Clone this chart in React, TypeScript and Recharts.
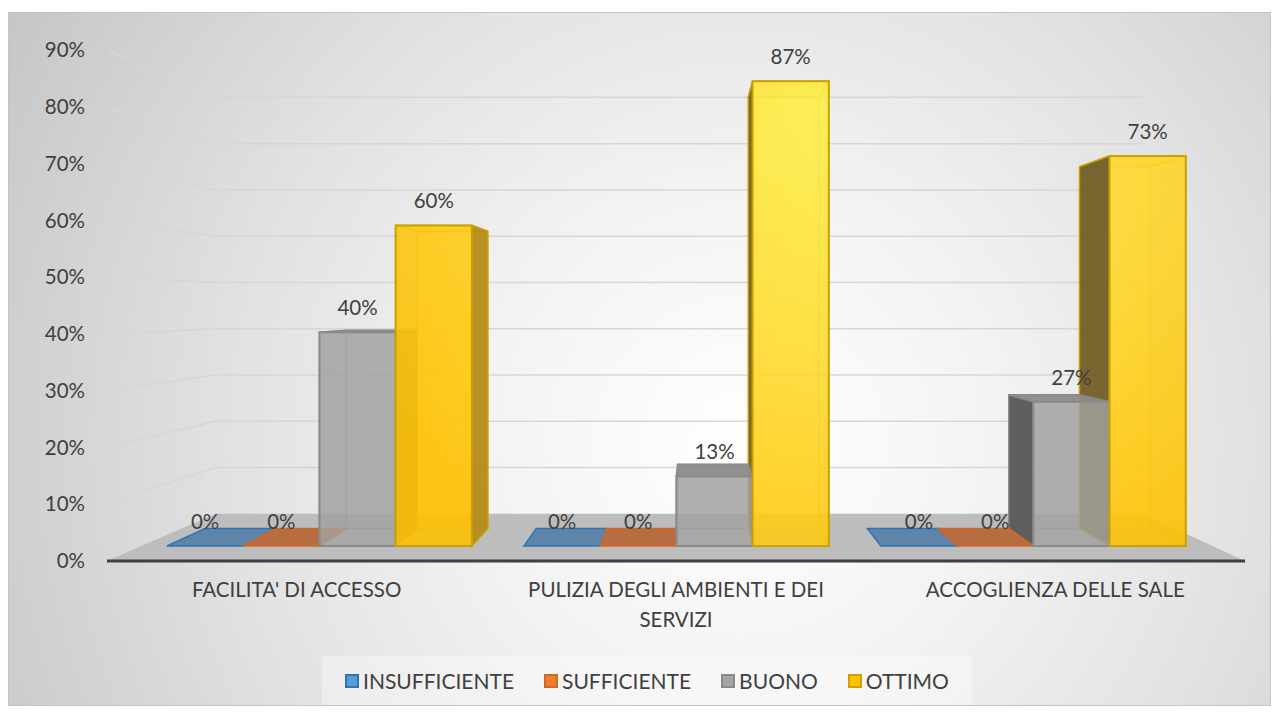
import React from 'react';
import {
  BarChart,
  Bar,
  XAxis,
  YAxis,
  CartesianGrid,
  ReferenceLine,
  LabelList,
  Legend,
} from 'recharts';

// ─── Data ─────────────────────────────────────────────────────────────────────

const CATEGORIES = ["FACILITA' DI ACCESSO", 'PULIZIA DEGLI AMBIENTI E DEI SERVIZI', 'ACCOGLIENZA DELLE SALE'];
const INSUFFICIENTE = [0, 0, 0];
const SUFFICIENTE = [0, 0, 0];
const BUONO = [0.4, 0.13, 0.27];
const OTTIMO = [0.6, 0.87, 0.73];
const Y_TICKS = [0, 0.1, 0.2, 0.3, 0.4, 0.5, 0.6, 0.7, 0.8, 0.9];

const data = CATEGORIES.map((name, i) => ({
  name,
  insufficiente: INSUFFICIENTE[i],
  sufficiente: SUFFICIENTE[i],
  buono: BUONO[i],
  ottimo: OTTIMO[i],
}));

// ─── Look ─────────────────────────────────────────────────────────────────────

const FONT = 'Lato, "Open Sans", sans-serif';
const TEXT = '#404040';
const FS = 20.5;

interface SeriesStyle {
  key: string;
  name: string;
  legend: string;
  stroke: string;
  front: string;
  frontOpacity: number;
  top: string;
  left: string;
  right: string;
}

const SERIES: SeriesStyle[] = [
  { key: 'insufficiente', name: 'INSUFFICIENTE', legend: '#5B9BD5', stroke: '#2E75B6', front: '#5B9BD5', frontOpacity: 0.85, top: '#5A81A9', left: '#3F6A94', right: '#4C7DAA' },
  { key: 'sufficiente', name: 'SUFFICIENTE', legend: '#ED7D31', stroke: '#D0691F', front: '#ED7D31', frontOpacity: 0.85, top: '#B6683A', left: '#8A4A22', right: '#B35E28' },
  { key: 'buono', name: 'BUONO', legend: '#A5A5A5', stroke: '#8A8A8A', front: '#A3A3A3', frontOpacity: 0.8, top: '#8C8C8C', left: '#5B5B5B', right: '#8E8E8E' },
  { key: 'ottimo', name: 'OTTIMO', legend: '#FFC000', stroke: '#C9A100', front: 'url(#goldFill)', frontOpacity: 0.88, top: '#E0B300', left: '#74602A', right: '#B38B1E' },
];

// fake 3D: vanishing point + depth ratios (chart pixel space)
const VX = 684;
const VY = 293;
const K_FRONT = 0.941;
const K_BACK = 0.873;
const K_WALL = 0.815;

const project = (x: number, y: number, k: number): [number, number] => [VX + k * (x - VX), VY + k * (y - VY)];
const pts = (list: [number, number][]) => list.map((p) => `${p[0]},${p[1]}`).join(' ');

const corners = (x: number, y: number, w: number, h: number) => ({
  ftl: project(x, y, K_FRONT),
  ftr: project(x + w, y, K_FRONT),
  fbr: project(x + w, y + h, K_FRONT),
  fbl: project(x, y + h, K_FRONT),
  btl: project(x, y, K_BACK),
  btr: project(x + w, y, K_BACK),
  bbr: project(x + w, y + h, K_BACK),
  bbl: project(x, y + h, K_BACK),
});

// back half of the box: rear faces and side walls
const BoxBack = ({ x, y, width, height, s }: any) => {
  if (x == null || !s || height < 1) return <g />;
  const c = corners(x, y, width, height);
  const leftVisible = c.btl[0] < c.ftl[0];
  const rightVisible = c.btr[0] > c.ftr[0];
  const topHidden = c.btl[1] > c.ftl[1];
  return (
    <g>
      <polygon points={pts([c.btl, c.btr, c.bbr, c.bbl])} fill={s.front} fillOpacity={0.25} stroke={s.stroke} strokeOpacity={0.45} strokeWidth={1} />
      <polygon points={pts([c.fbl, c.fbr, c.bbr, c.bbl])} fill="none" stroke={s.stroke} strokeOpacity={0.45} strokeWidth={1} />
      {topHidden && (
        <polygon points={pts([c.ftl, c.ftr, c.btr, c.btl])} fill={s.top} fillOpacity={0.35} stroke={s.stroke} strokeWidth={1.5} />
      )}
      <polygon
        points={pts([c.ftl, c.btl, c.bbl, c.fbl])}
        fill={s.left}
        fillOpacity={leftVisible ? 0.97 : 0.15}
        stroke={s.stroke}
        strokeOpacity={leftVisible ? 1 : 0.4}
        strokeWidth={1.5}
      />
      <polygon
        points={pts([c.ftr, c.btr, c.bbr, c.fbr])}
        fill={s.right}
        fillOpacity={rightVisible ? 0.95 : 0.15}
        stroke={s.stroke}
        strokeOpacity={rightVisible ? 1 : 0.4}
        strokeWidth={1.5}
      />
    </g>
  );
};

// front half of the box: top (when seen from above) and front face
const BoxFront = ({ x, y, width, height, s }: any) => {
  if (x == null || !s) return <g />;
  const c = corners(x, y, width, height);
  const topVisible = c.btl[1] < c.ftl[1];
  return (
    <g>
      {topVisible && (
        <polygon points={pts([c.ftl, c.ftr, c.btr, c.btl])} fill={s.top} fillOpacity={0.95} stroke={s.stroke} strokeWidth={1.5} />
      )}
      {height >= 1 && (
        <polygon
          points={pts([c.ftl, c.ftr, c.fbr, c.fbl])}
          fill={s.front}
          fillOpacity={s.frontOpacity}
          stroke={s.stroke}
          strokeWidth={2}
        />
      )}
    </g>
  );
};

const pct = (v: number) => `${Math.round(v * 100)}%`;

const ValueLabel = (props: any) => {
  const vb = props.viewBox ?? props;
  if (vb?.x == null) return null;
  const [px, py] = project(vb.x + vb.width / 2, vb.y, K_FRONT);
  return (
    <text x={px} y={py - 25} textAnchor="middle" dominantBaseline="central" fill={TEXT} fontSize={FS} fontFamily={FONT}>
      {pct(Number(props.value))}
    </text>
  );
};

// wall gridlines: side wall diagonal + back wall horizontal
const WallLine = (props: any) => {
  const { x1, x2, y1, key, index } = props;
  if (y1 >= 547) return <g key={key ?? `w-${index}`} />;
  const [bx1, by] = project(x1, y1, K_WALL);
  const [bx2] = project(x2, y1, K_WALL);
  return (
    <path
      key={key ?? `w-${index}`}
      d={`M${x1},${y1} L${bx1},${by} L${bx2},${by}`}
      fill="none"
      stroke="#d6d6d6"
      strokeWidth={1.5}
    />
  );
};

const Floor = (props: any) => {
  const { x1, x2, y1 } = props;
  const bl = project(x1, y1, K_WALL);
  const br = project(x2, y1, K_WALL);
  return <polygon points={pts([[x1, y1], [x2, y1], br, bl])} fill="#bdbdbd" />;
};

// greedy word wrap measured with canvas
let measureCtx: CanvasRenderingContext2D | null = null;
const measure = (str: string) => {
  if (!measureCtx) {
    measureCtx = document.createElement('canvas').getContext('2d');
  }
  if (!measureCtx) return str.length * 11;
  measureCtx.font = `${FS}px ${FONT}`;
  return measureCtx.measureText(str).width;
};

const wrap = (str: string, maxWidth: number) => {
  const lines: string[] = [];
  let cur = '';
  str.split(' ').forEach((word) => {
    const next = cur ? `${cur} ${word}` : word;
    if (cur && measure(next) > maxWidth) {
      lines.push(cur);
      cur = word;
    } else {
      cur = next;
    }
  });
  if (cur) lines.push(cur);
  return lines;
};

const CategoryTick = ({ x, y, payload }: any) => {
  const lines = wrap(String(payload.value), 340);
  return (
    <text x={x} y={y} textAnchor="middle" fill={TEXT} fontSize={FS} fontFamily={FONT}>
      {lines.map((line, i) => (
        <tspan key={i} x={x} dy={i === 0 ? 14 : 30}>
          {line}
        </tspan>
      ))}
    </text>
  );
};

const LegendContent = ({ payload }: any) => {
  const items = (payload ?? [])
    .filter((p: any) => p.type !== 'none')
    .sort(
      (a: any, b: any) =>
        SERIES.findIndex((s) => s.key === a.dataKey) - SERIES.findIndex((s) => s.key === b.dataKey),
    );
  return (
    <div
      style={{
        display: 'flex',
        justifyContent: 'center',
        alignItems: 'center',
        height: 49,
        gap: 30,
        background: 'rgba(255,255,255,0.35)',
        fontFamily: FONT,
        fontSize: 21,
        color: TEXT,
      }}
    >
      {items.map((item: any) => {
        const s = SERIES.find((x) => x.key === item.dataKey) ?? SERIES[0];
        return (
          <span key={s.key} style={{ display: 'flex', alignItems: 'center' }}>
            <span
              style={{
                display: 'inline-block',
                width: 10,
                height: 10,
                background: s.legend,
                border: `2px solid ${s.stroke}`,
                marginRight: 4,
              }}
            />
            <span>{item.value}</span>
          </span>
        );
      })}
    </div>
  );
};

export default function App() {
  return (
    <div
      style={{
        position: 'relative',
        marginTop: 4,
        width: 1263,
        height: 694,
        boxSizing: 'border-box',
        border: '1px solid #c4c4c4',
        background: 'radial-gradient(circle at 58% 62%, #ffffff 0%, #f3f3f3 30%, #e2e2e2 60%, #c6c6c6 100%)',
      }}
    >
      <BarChart
        width={1261}
        height={692}
        data={data}
        margin={{ top: 37, right: 25, bottom: 84, left: 0 }}
        barCategoryGap={27}
        barGap={0}
      >
        <defs>
          <radialGradient id="goldFill" gradientUnits="userSpaceOnUse" cx={850} cy={80} r={560}>
            <stop offset="0%" stopColor="#FFF24D" />
            <stop offset="50%" stopColor="#FFDA30" />
            <stop offset="100%" stopColor="#FFC000" />
          </radialGradient>
        </defs>
        <CartesianGrid horizontal={WallLine} vertical={false} />
        <ReferenceLine y={0} shape={Floor} zIndex={-50} />
        <XAxis
          dataKey="name"
          height={60}
          tick={<CategoryTick />}
          tickLine={false}
          tickMargin={16}
          interval={0}
          axisLine={{ stroke: '#404040', strokeWidth: 3 }}
        />
        <XAxis dataKey="name" xAxisId="depth" hide />
        <YAxis
          type="number"
          domain={[0, 0.9]}
          ticks={Y_TICKS}
          interval={0}
          width={98}
          tickFormatter={pct}
          tickLine={false}
          axisLine={false}
          tickMargin={16}
          tick={{ fill: TEXT, fontSize: FS, fontFamily: FONT }}
        />
        {SERIES.map((s) => (
          <Bar
            key={`back-${s.key}`}
            xAxisId="depth"
            dataKey={s.key}
            legendType="none"
            fill={s.legend}
            isAnimationActive={false}
            shape={(p: any) => <BoxBack {...p} s={s} />}
          />
        ))}
        {SERIES.map((s) => (
          <Bar
            key={s.key}
            dataKey={s.key}
            name={s.name}
            fill={s.legend}
            isAnimationActive={false}
            shape={(p: any) => <BoxFront {...p} s={s} />}
          >
            <LabelList dataKey={s.key} content={<ValueLabel />} />
          </Bar>
        ))}
        <Legend
          layout="horizontal"
          verticalAlign="middle"
          align="center"
          content={<LegendContent />}
          wrapperStyle={{ left: 313, top: 643, width: 650, height: 49 }}
        />
      </BarChart>
    </div>
  );
}
